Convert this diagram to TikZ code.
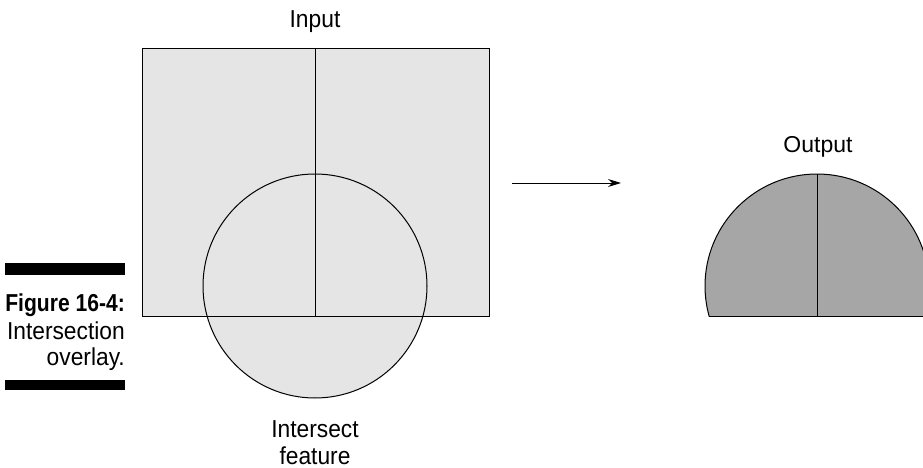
\documentclass[tikz,border=0pt]{standalone}
\usepackage{fontspec}
\setmainfont{Liberation Sans}[FakeStretch=0.93]
\newfontfamily\plainsans{Liberation Sans}
\newfontfamily\capboldfont{Liberation Sans}[FakeStretch=0.86]
\usetikzlibrary{arrows.meta}
\definecolor{lightfill}{HTML}{E5E5E5}
\definecolor{darkfill}{HTML}{A6A6A6}
\begin{document}
\begin{tikzpicture}[x=1pt,y=-1pt,
  lbl/.style={font=\fontsize{24.5}{28}\selectfont, inner sep=0pt, anchor=base},
  caplbl/.style={font=\fontsize{24.5}{28}\selectfont, inner sep=0pt, anchor=base east},
  outline/.style={draw=black, line width=1pt},
  bar/.style={fill=black, draw=none}]
\useasboundingbox (0,0) rectangle (923,468);
% Input layer
\fill[lightfill] (142,49) rectangle (489,316);
\fill[lightfill] (315,286) circle (112);
\draw[outline] (142,49) rectangle (489,316);
\draw[outline] (315,286) circle (112);
\coordinate (intop) at (315,49);
\coordinate (inbot) at (315,316);
\draw[outline] (intop) -- (inbot);
% labels
\node[lbl] (input) at (315,28) {Input};
\node[lbl] (isect1) at (315,437) {Intersect};
\node[lbl] (isect2) at (315,464) {feature};
% arrow
\coordinate (arrA) at (512,183);
\coordinate (arrB) at (621,183);
\draw[line width=1pt, -{Stealth[length=13pt,width=8pt]}] (arrA) -- (arrB);
% Output
\begin{scope}
  \clip (0,0) rectangle (923,316);
  \fill[darkfill] (817,286) circle (112);
  \draw[outline] (817,286) circle (112);
\end{scope}
\coordinate (outL) at (709,316);
\coordinate (outR) at (923,316);
\draw[outline] (outL) -- (outR);
\coordinate (outtop) at (817,174);
\coordinate (outbot) at (817,316);
\draw[outline] (outtop) -- (outbot);
\node[lbl, font=\plainsans\fontsize{23}{26}\selectfont] (output) at (818,152) {Output};
% caption
\fill[bar] (5,263) rectangle (125,275);
\fill[bar] (5,380) rectangle (125,390);
\node[caplbl, font=\capboldfont\fontsize{24.5}{28}\selectfont\bfseries] (cap1) at (125,311.5) {Figure 16-4:};
\node[caplbl] (cap2) at (125,339) {Intersection};
\node[caplbl] (cap3) at (125,365) {overlay.};
\end{tikzpicture}
\end{document}
